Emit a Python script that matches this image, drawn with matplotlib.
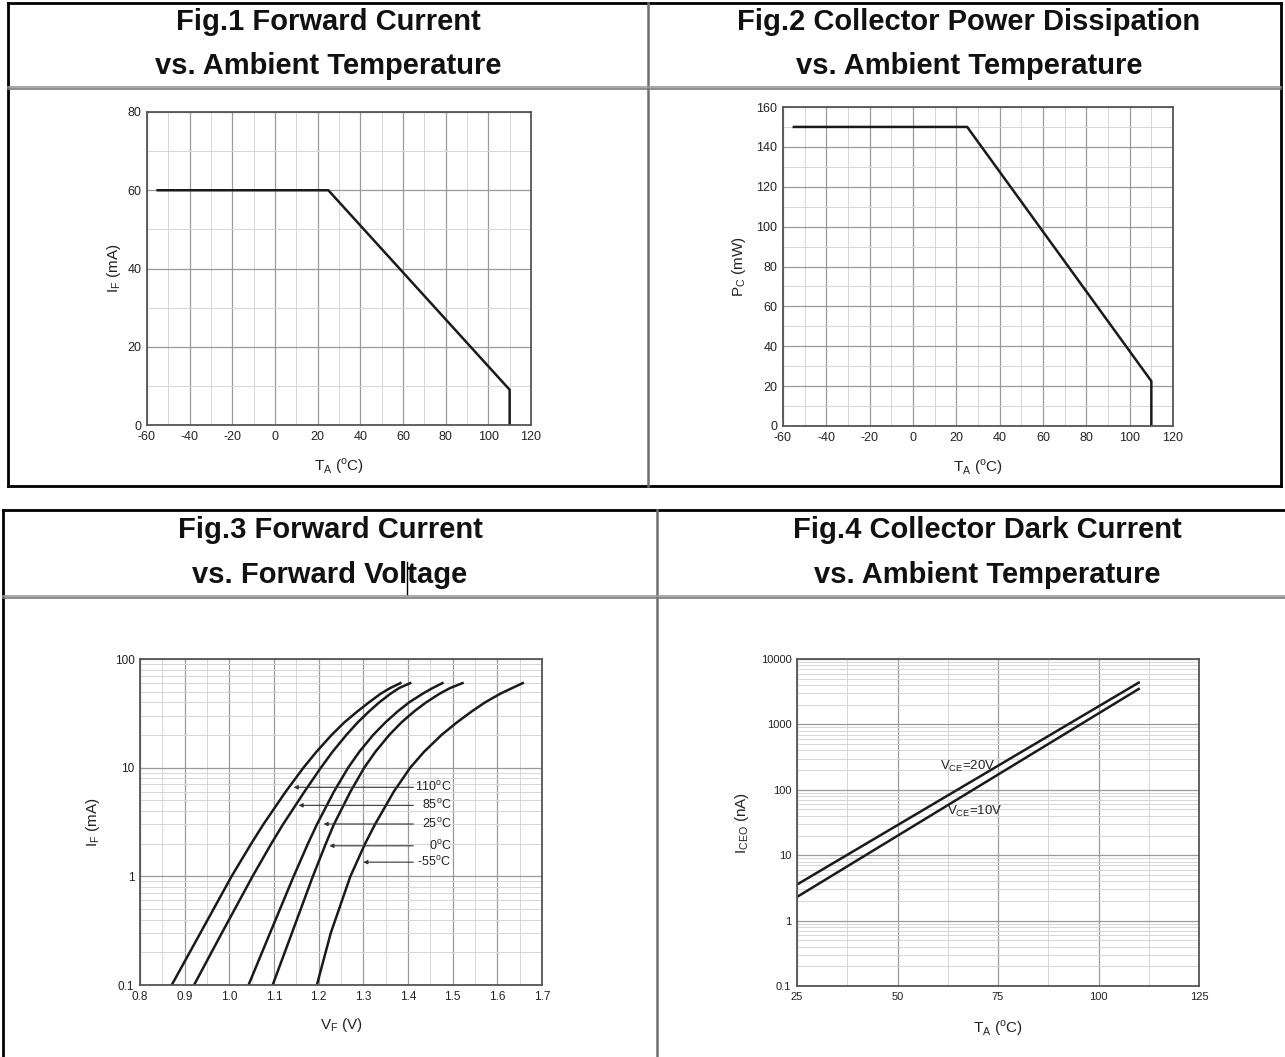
import matplotlib
matplotlib.use('Agg')
import matplotlib.pyplot as plt
from matplotlib.ticker import MultipleLocator, FixedLocator, LogLocator, NullFormatter, FormatStrFormatter

W, H = 1285, 1057

# Fig.1 forward current derating
fig1_ta = [-55, 25, 110, 110]
fig1_if = [60, 60, 9, 0]

# Fig.2 collector power derating
fig2_ta = [-55, 25, 110, 110]
fig2_pc = [150, 150, 22.5, 0]

# Fig.3 forward current vs forward voltage (one curve per temperature)
fig3_if = [0.1, 0.3, 1, 2, 3, 6, 10, 14, 20, 26, 33, 40, 48, 54, 60]
fig3_temps = ['110', '85', '25', '0', '-55']
fig3_vf_110 = [0.871, 0.935, 1.005, 1.049, 1.076, 1.126, 1.166, 1.195, 1.229, 1.257,
               1.287, 1.313, 1.339, 1.360, 1.383]
fig3_vf_85 = [0.921, 0.983, 1.052, 1.094, 1.120, 1.168, 1.205, 1.231, 1.262, 1.287,
              1.313, 1.336, 1.361, 1.380, 1.405]
fig3_vf_25 = [1.043, 1.091, 1.144, 1.176, 1.196, 1.234, 1.266, 1.291, 1.322, 1.349,
              1.377, 1.403, 1.433, 1.455, 1.477]
fig3_vf_0 = [1.097, 1.140, 1.187, 1.216, 1.234, 1.271, 1.302, 1.327, 1.358, 1.385,
             1.414, 1.441, 1.471, 1.494, 1.522]
fig3_vf_m55 = [1.196, 1.227, 1.271, 1.304, 1.326, 1.368, 1.405, 1.436, 1.475, 1.509,
               1.543, 1.573, 1.607, 1.633, 1.657]
fig3_label_if = [6.6, 4.5, 3.03, 1.91, 1.35]
fig3_arrow_vf = [1.144, 1.155, 1.211, 1.224, 1.300]

# Fig.4 dark current vs temperature
fig4_ta = [25, 110]
fig4_20v = [3.56, 4350]
fig4_10v = [2.3, 3480]

plt.rcParams['font.family'] = ['Liberation Sans', 'DejaVu Sans']
plt.rcParams['axes.unicode_minus'] = False
plt.rcParams['mathtext.fontset'] = 'custom'
plt.rcParams['mathtext.rm'] = 'Liberation Sans'

fig = plt.figure(figsize=(W / 100, H / 100), dpi=100)
fig.patch.set_facecolor('white')

# background layer in pixel coords for the table frames and headers
bg = fig.add_axes([0, 0, 1, 1])
bg.set_xlim(0, W)
bg.set_ylim(H, 0)
bg.axis('off')

def frame(x0, x1, y0, y1, xm, ysep, right=True, bottom=True):
    bg.plot([x0, x1], [y0, y0], color='black', lw=2)
    bg.plot([x0, x0], [y0, y1], color='black', lw=2)
    if right:
        bg.plot([x1, x1], [y0, y1], color='black', lw=2)
    if bottom:
        bg.plot([x0, x1], [y1, y1], color='black', lw=2)
    bg.plot([xm, xm], [y0, y1], color='#6e6e6e', lw=1.8)
    bg.plot([x0, x1], [ysep - 1, ysep - 1], color='#9a9a9a', lw=1.2)
    bg.plot([x0, x1], [ysep + 1, ysep + 1], color='#7a7a7a', lw=1.2)

frame(8, 1281, 3, 486, 648, 88)
frame(3, 1290, 510, 1060, 657, 597, right=False, bottom=False)

title_font = dict(family=['Liberation Sans Narrow', 'Liberation Sans'], weight='bold',
                  size=21, ha='center', va='center', color='#111111')
titles = [
    (328, 22, 'Fig.1 Forward Current'), (328, 66, 'vs. Ambient Temperature'),
    (969, 22, 'Fig.2 Collector Power Dissipation'), (969, 66, 'vs. Ambient Temperature'),
    (330, 530, 'Fig.3 Forward Current'), (330, 575, 'vs. Forward Voltage'),
    (987, 530, 'Fig.4 Collector Dark Current'), (987, 575, 'vs. Ambient Temperature'),
]
for x, y, s in titles:
    bg.text(x, y, s, **title_font)
# stray text cursor in the Fig.3 header
bg.plot([407, 407], [562, 594], color='black', lw=1, zorder=5)


def px_axes(l, t, r, b):
    return fig.add_axes([l / W, 1 - b / H, (r - l) / W, (b - t) / H])


def style(ax, size=9):
    ax.grid(which='major', color='#9a9a9a', lw=0.9)
    ax.grid(which='minor', color='#d6d6d6', lw=0.7)
    ax.set_axisbelow(True)
    for s in ax.spines.values():
        s.set_color('#555555')
        s.set_linewidth(1.3)
    ax.tick_params(which='both', length=0, labelsize=size, pad=4, colors='#222222')


ta_label = r'T$_\mathregular{A}$ ($^\mathregular{o}$C)'

# Fig.1
ax1 = px_axes(147, 112, 531, 425)
ax1.plot(fig1_ta, fig1_if, color='#1a1a1a', lw=1.8)
ax1.set_xlim(-60, 120)
ax1.set_ylim(0, 80)
ax1.xaxis.set_major_locator(MultipleLocator(20))
ax1.xaxis.set_minor_locator(MultipleLocator(10))
ax1.yaxis.set_major_locator(MultipleLocator(20))
ax1.yaxis.set_minor_locator(MultipleLocator(10))
style(ax1)
ax1.set_xlabel(ta_label, fontsize=11, labelpad=10, color='#222222')
ax1.set_ylabel(r'I$_\mathregular{F}$ (mA)', fontsize=11, labelpad=3, color='#222222')

# Fig.2
ax2 = px_axes(783, 107, 1173, 426)
ax2.plot(fig2_ta, fig2_pc, color='#1a1a1a', lw=1.8)
ax2.set_xlim(-60, 120)
ax2.set_ylim(0, 160)
ax2.xaxis.set_major_locator(MultipleLocator(20))
ax2.xaxis.set_minor_locator(MultipleLocator(10))
ax2.yaxis.set_major_locator(MultipleLocator(20))
ax2.yaxis.set_minor_locator(MultipleLocator(10))
style(ax2)
ax2.set_xlabel(ta_label, fontsize=11, labelpad=10, color='#222222')
ax2.set_ylabel(r'P$_\mathregular{C}$ (mW)', fontsize=11, labelpad=6, color='#222222')

# Fig.3
ax3 = px_axes(140, 659, 542, 985)
for vf in [fig3_vf_110, fig3_vf_85, fig3_vf_25, fig3_vf_0, fig3_vf_m55]:
    ax3.plot(vf, fig3_if, color='#1a1a1a', lw=1.8, solid_joinstyle='round')
ax3.set_yscale('log')
ax3.set_xlim(0.8, 1.7)
ax3.set_ylim(0.1, 100)
ax3.xaxis.set_major_locator(MultipleLocator(0.1))
ax3.xaxis.set_minor_locator(MultipleLocator(0.05))
ax3.xaxis.set_major_formatter(FormatStrFormatter('%.1f'))
ax3.yaxis.set_major_locator(FixedLocator([0.1, 1, 10, 100]))
ax3.yaxis.set_minor_locator(LogLocator(base=10, subs=range(2, 10)))
ax3.yaxis.set_minor_formatter(NullFormatter())
ax3.set_yticklabels(['0.1', '1', '10', '100'])
style(ax3, size=8.5)
for t, y, xa in zip(fig3_temps, fig3_label_if, fig3_arrow_vf):
    ax3.annotate('', xy=(xa, y), xytext=(1.412, y),
                 arrowprops=dict(arrowstyle='-|>', lw=0.8, color='#333333',
                                 mutation_scale=6, shrinkA=0, shrinkB=0))
    ax3.text(1.497, y, t + r'$^\mathregular{o}$C', fontsize=9, ha='right', va='center',
             color='#222222')
ax3.set_xlabel(r'V$_\mathregular{F}$ (V)', fontsize=11, labelpad=10, color='#222222')
ax3.set_ylabel(r'I$_\mathregular{F}$ (mA)', fontsize=11, labelpad=9, color='#222222')

# Fig.4
ax4 = px_axes(797, 659, 1199, 986)
ax4.plot(fig4_ta, fig4_20v, color='#1a1a1a', lw=1.8)
ax4.plot(fig4_ta, fig4_10v, color='#1a1a1a', lw=1.8)
ax4.set_yscale('log')
ax4.set_xlim(25, 125)
ax4.set_ylim(0.1, 10000)
ax4.xaxis.set_major_locator(MultipleLocator(25))
ax4.xaxis.set_minor_locator(MultipleLocator(12.5))
ax4.yaxis.set_major_locator(FixedLocator([0.1, 1, 10, 100, 1000, 10000]))
ax4.yaxis.set_minor_locator(LogLocator(base=10, subs=range(2, 10)))
ax4.yaxis.set_minor_formatter(NullFormatter())
ax4.set_yticklabels(['0.1', '1', '10', '100', '1000', '10000'])
style(ax4, size=8)
ax4.text(60.6, 230, r'V$_\mathregular{CE}$=20V', fontsize=9.5, ha='left', va='center',
         color='#222222')
ax4.text(62.3, 46, r'V$_\mathregular{CE}$=10V', fontsize=9.5, ha='left', va='center',
         color='#222222')
ax4.set_xlabel(ta_label, fontsize=11, labelpad=12, color='#222222')
ax4.set_ylabel(r'I$_\mathregular{CEO}$ (nA)', fontsize=11, labelpad=7, color='#222222')

fig.savefig('out.png', dpi=100)
